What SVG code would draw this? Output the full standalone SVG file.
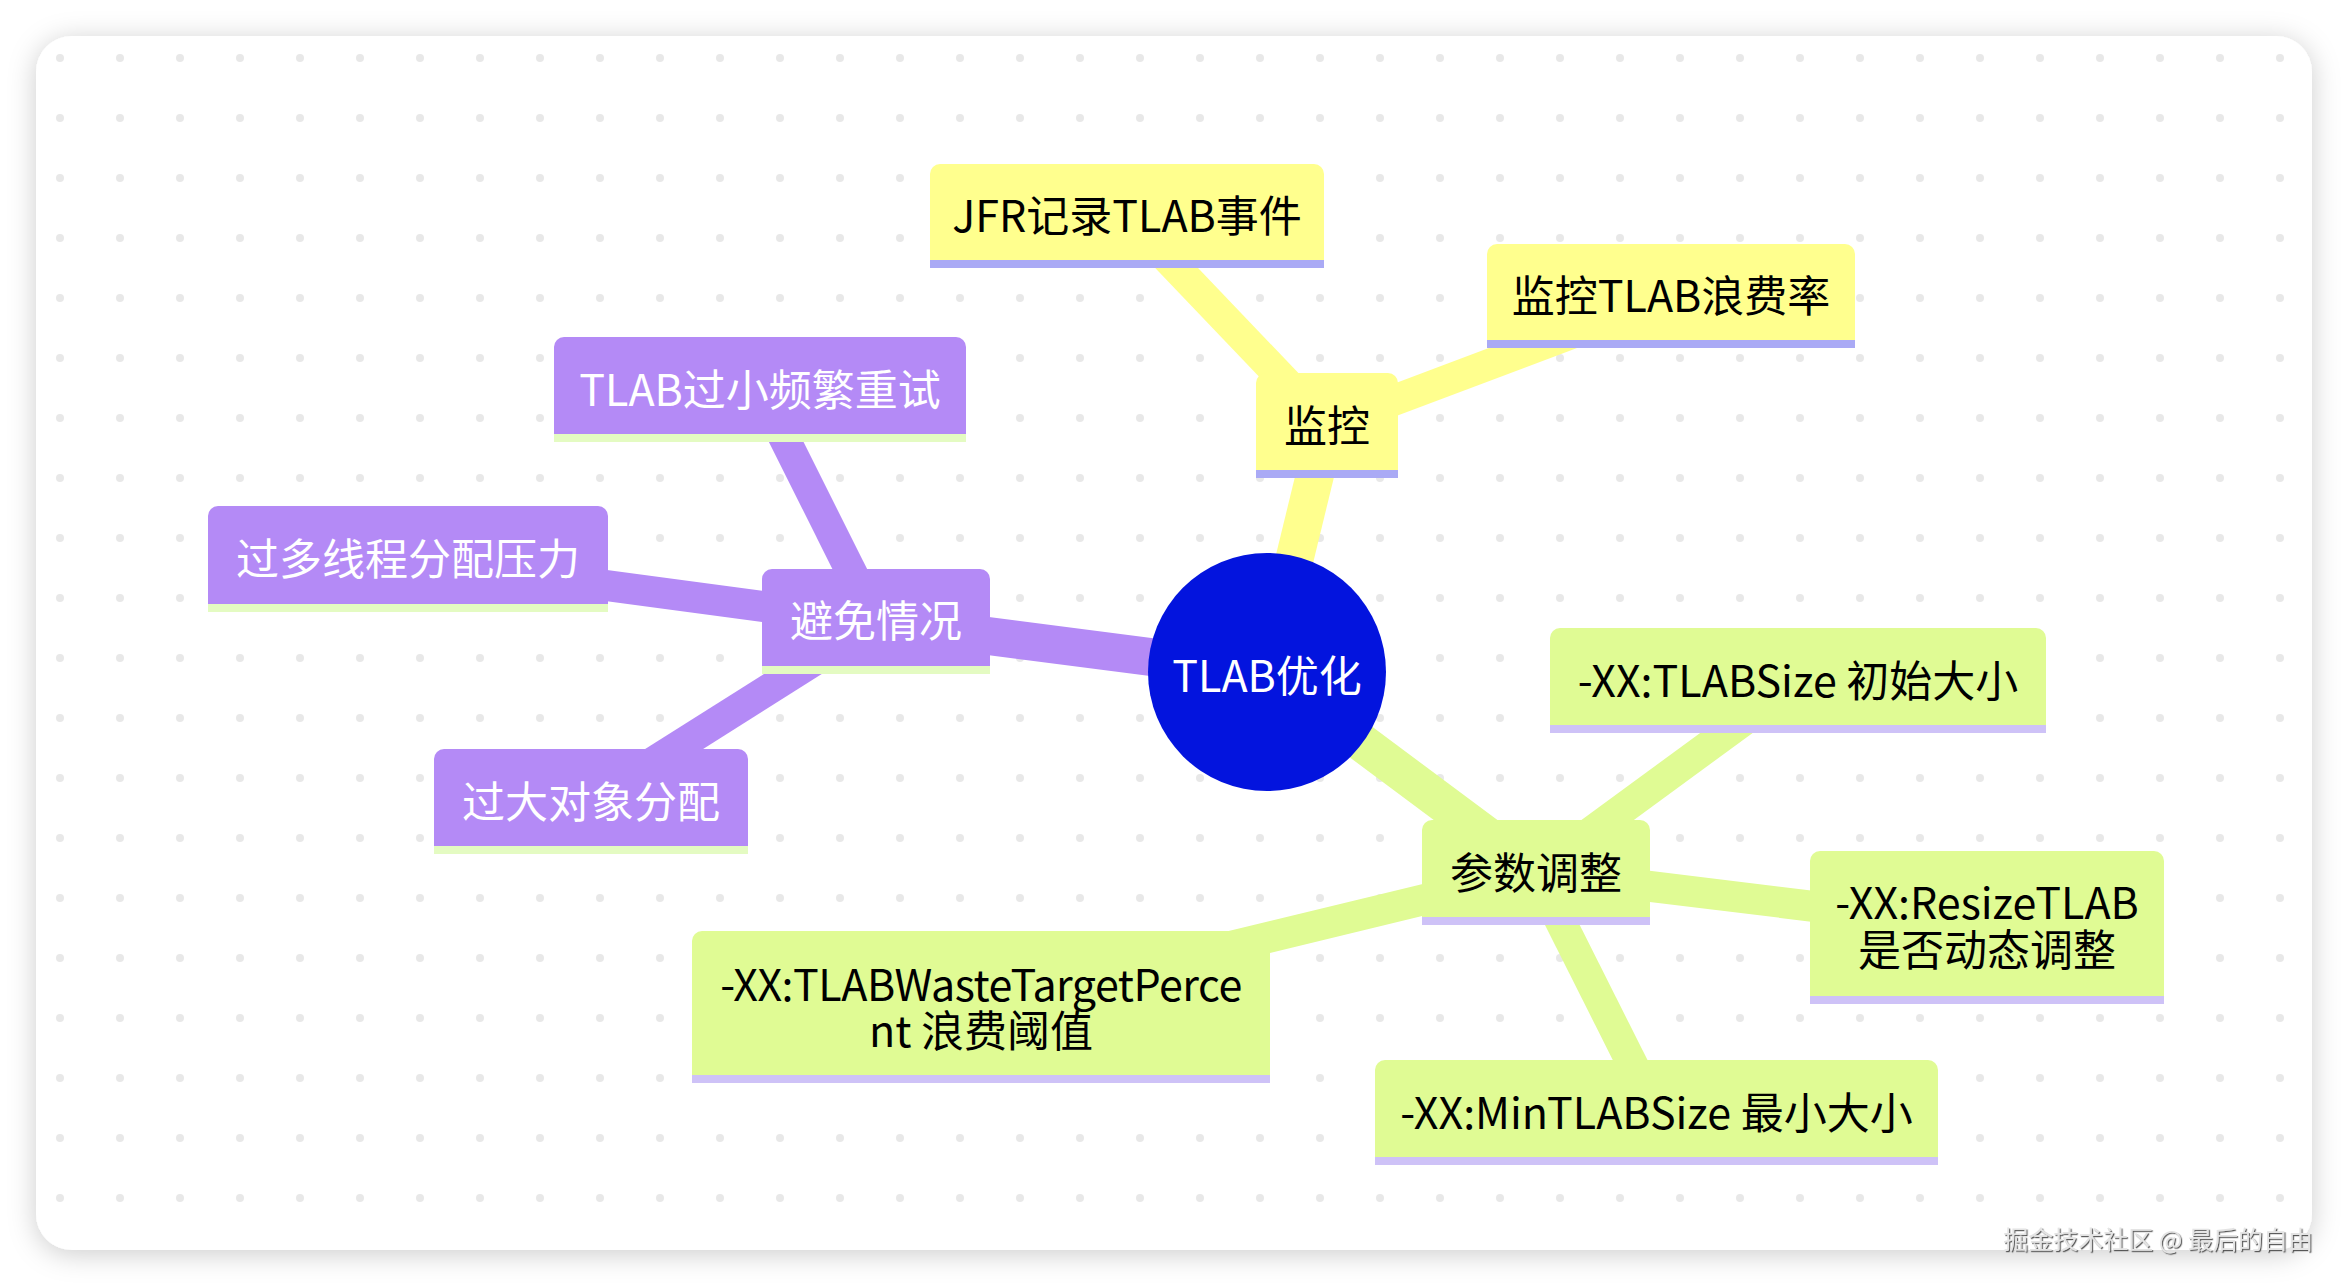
<svg xmlns="http://www.w3.org/2000/svg" width="2348" height="1286" viewBox="0 0 2348 1286">
  <defs>
    <filter id="cardShadow" x="-5%" y="-5%" width="110%" height="110%">
      <feDropShadow dx="0" dy="4" stdDeviation="14" flood-color="#000" flood-opacity="0.2"/>
    </filter>
    <filter id="wm" x="-5%" y="-20%" width="110%" height="140%">
      <feDropShadow dx="1.2" dy="1.2" stdDeviation="0.6" flood-color="#444" flood-opacity="0.9"/>
    </filter>
    <pattern id="dots" patternUnits="userSpaceOnUse" x="30" y="28" width="60" height="60">
      <circle cx="30" cy="30" r="4" fill="#e8e8e8"/>
    </pattern>
    <clipPath id="cardClip">
      <rect x="36" y="36" width="2276" height="1214" rx="36" ry="36"/>
    </clipPath>
  </defs>
  <style>
    .t { font-family: "Noto Sans CJK SC", "Noto Sans", sans-serif; font-size: 43px; text-anchor: middle; }
    .dark { fill: #000; }
    .light { fill: #fff; }
    .e0 { stroke-width: 38; stroke-linecap: butt; fill: none; }
    .e1 { stroke-width: 31; stroke-linecap: butt; fill: none; }
    .ey { stroke: #ffff8e; }
    .ep { stroke: #b48af6; }
    .eg { stroke: #e0fb94; }
    .ny { fill: #ffff8e; }
    .np { fill: #b48af6; }
    .ng { fill: #e0fb94; }
    .uy { fill: #aaaaf5; }
    .up { fill: #e4fbc2; }
    .ug { fill: #cec2f7; }
  </style>

  <rect x="0" y="0" width="2348" height="1286" fill="#ffffff"/>
  <rect x="36" y="36" width="2276" height="1214" rx="36" ry="36" fill="#ffffff" filter="url(#cardShadow)"/>
  <rect x="36" y="36" width="2276" height="1214" fill="url(#dots)" clip-path="url(#cardClip)"/>

  <g id="connectors">
    <line class="e0 ey" x1="1267" y1="672" x2="1327" y2="425.5"/>
    <line class="e0 ep" x1="1267" y1="672" x2="876" y2="621.5"/>
    <line class="e0 eg" x1="1267" y1="672" x2="1536" y2="872.5"/>
    <line class="e1 ey" x1="1327" y1="425.5" x2="1127" y2="216"/>
    <line class="e1 ey" x1="1327" y1="425.5" x2="1671" y2="296"/>
    <line class="e1 ep" x1="876" y1="621.5" x2="760" y2="389.5"/>
    <line class="e1 ep" x1="876" y1="621.5" x2="408" y2="559"/>
    <line class="e1 ep" x1="876" y1="621.5" x2="591" y2="801.5"/>
    <line class="e1 eg" x1="1536" y1="872.5" x2="1798" y2="680.5"/>
    <line class="e1 eg" x1="1536" y1="872.5" x2="1987" y2="927.5"/>
    <line class="e1 eg" x1="1536" y1="872.5" x2="1656.5" y2="1112.5"/>
    <line class="e1 eg" x1="1536" y1="872.5" x2="981" y2="1007"/>
  </g>

  <g id="root">
    <circle cx="1267" cy="672" r="119" fill="#0314de"/>
    <text class="t light" x="1267" y="692">TLAB优化</text>
  </g>

  <g id="n-monitor">
    <path class="ny" d="M1256,470 V383 a10,10 0 0 1 10,-10 H1388 a10,10 0 0 1 10,10 V470 Z"/>
    <rect class="uy" x="1256" y="470" width="142" height="8"/>
    <text class="t dark" x="1327" y="442">监控</text>
  </g>

  <g id="n-jfr">
    <path class="ny" d="M930,260 V174 a10,10 0 0 1 10,-10 H1314 a10,10 0 0 1 10,10 V260 Z"/>
    <rect class="uy" x="930" y="260" width="394" height="8"/>
    <text class="t dark" x="1127" y="232">JFR记录TLAB事件</text>
  </g>

  <g id="n-waste-rate">
    <path class="ny" d="M1487,340 V254 a10,10 0 0 1 10,-10 H1845 a10,10 0 0 1 10,10 V340 Z"/>
    <rect class="uy" x="1487" y="340" width="368" height="8"/>
    <text class="t dark" x="1671" y="312">监控TLAB浪费率</text>
  </g>

  <g id="n-avoid">
    <path class="np" d="M762,666 V579 a10,10 0 0 1 10,-10 H980 a10,10 0 0 1 10,10 V666 Z"/>
    <rect class="up" x="762" y="666" width="228" height="8"/>
    <text class="t light" x="876" y="637">避免情况</text>
  </g>

  <g id="n-small">
    <path class="np" d="M554,434 V347 a10,10 0 0 1 10,-10 H956 a10,10 0 0 1 10,10 V434 Z"/>
    <rect class="up" x="554" y="434" width="412" height="8"/>
    <text class="t light" x="760" y="406">TLAB过小频繁重试</text>
  </g>

  <g id="n-threads">
    <path class="np" d="M208,604 V516 a10,10 0 0 1 10,-10 H598 a10,10 0 0 1 10,10 V604 Z"/>
    <rect class="up" x="208" y="604" width="400" height="8"/>
    <text class="t light" x="408" y="575">过多线程分配压力</text>
  </g>

  <g id="n-large">
    <path class="np" d="M434,846 V759 a10,10 0 0 1 10,-10 H738 a10,10 0 0 1 10,10 V846 Z"/>
    <rect class="up" x="434" y="846" width="314" height="8"/>
    <text class="t light" x="591" y="818">过大对象分配</text>
  </g>

  <g id="n-params">
    <path class="ng" d="M1422,917 V830 a10,10 0 0 1 10,-10 H1640 a10,10 0 0 1 10,10 V917 Z"/>
    <rect class="ug" x="1422" y="917" width="228" height="8"/>
    <text class="t dark" x="1536" y="889">参数调整</text>
  </g>

  <g id="n-tlabsize">
    <path class="ng" d="M1550,725 V638 a10,10 0 0 1 10,-10 H2036 a10,10 0 0 1 10,10 V725 Z"/>
    <rect class="ug" x="1550" y="725" width="496" height="8"/>
    <text class="t dark" x="1798" y="697">-XX:TLABSize 初始大小</text>
  </g>

  <g id="n-resize">
    <path class="ng" d="M1810,996 V861 a10,10 0 0 1 10,-10 H2154 a10,10 0 0 1 10,10 V996 Z"/>
    <rect class="ug" x="1810" y="996" width="354" height="8"/>
    <text class="t dark" x="1987" y="919">-XX:ResizeTLAB</text>
    <text class="t dark" x="1987" y="966">是否动态调整</text>
  </g>

  <g id="n-min">
    <path class="ng" d="M1375,1157 V1070 a10,10 0 0 1 10,-10 H1928 a10,10 0 0 1 10,10 V1157 Z"/>
    <rect class="ug" x="1375" y="1157" width="563" height="8"/>
    <text class="t dark" x="1656.5" y="1129">-XX:MinTLABSize 最小大小</text>
  </g>

  <g id="n-wastepct">
    <path class="ng" d="M692,1075 V941 a10,10 0 0 1 10,-10 H1260 a10,10 0 0 1 10,10 V1075 Z"/>
    <rect class="ug" x="692" y="1075" width="578" height="8"/>
    <text class="t dark" x="981" y="1001" letter-spacing="-0.5">-XX:TLABWasteTargetPerce</text>
    <text class="t dark" x="981" y="1047">nt 浪费阈值</text>
  </g>

  <text x="2313" y="1249" text-anchor="end" font-family="Noto Sans CJK SC, sans-serif" font-size="25" fill="#e4e4e4" filter="url(#wm)">掘金技术社区 @ 最后的自由</text>
</svg>
